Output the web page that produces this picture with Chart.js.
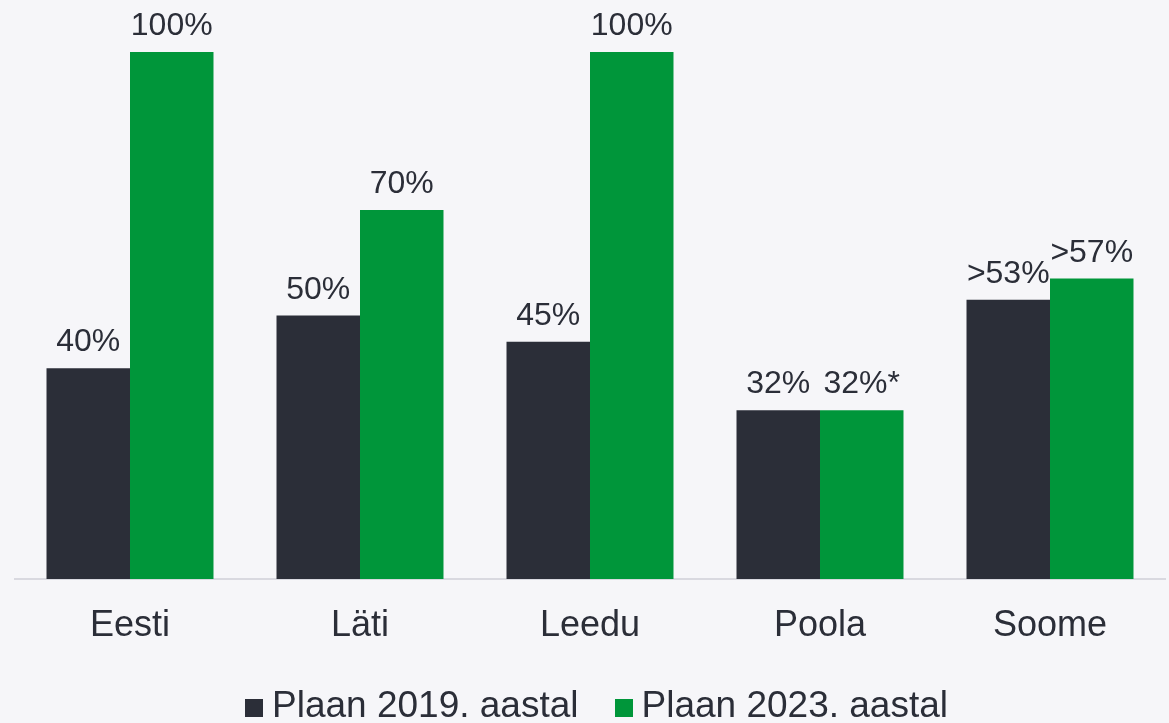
<!DOCTYPE html>
<html><head><meta charset="utf-8">
<script src="https://cdn.jsdelivr.net/npm/chart.js@4"></script>
<style>
html,body{margin:0;padding:0;background:#F6F6F9;}
#wrap{position:relative;width:1169px;height:723px;}
#legend{position:absolute;left:24px;right:0;top:685px;display:flex;justify-content:center;align-items:center;font-family:"Liberation Sans",Arial,sans-serif;font-size:37px;color:#2B2E38;line-height:40px;}
.item{display:flex;align-items:center;margin:0 18px;}
.sw{width:18px;height:18px;margin-right:9px;margin-top:5px;}
</style></head>
<body><div id="wrap"><canvas id="c" width="1169" height="723"></canvas>
<div id="legend"></div></div>
<script>
const categories = ["Eesti", "Läti", "Leedu", "Poola", "Soome"];
const seriesNames = ["Plaan 2019. aastal", "Plaan 2023. aastal"];
const plan2019 = [40, 50, 45, 32, 53];
const plan2023 = [100, 70, 100, 32, 57];
const labels2019 = ["40%", "50%", "45%", "32%", ">53%"];
const labels2023 = ["100%", "70%", "100%", "32%*", ">57%"];
const colors = ["#2B2E38", "#00963A"];

const valueLabels = {
  id: 'valueLabels',
  afterDatasetsDraw(chart) {
    const ctx = chart.ctx;
    const lbls = [labels2019, labels2023];
    ctx.save();
    ctx.font = '32px "Liberation Sans", Arial, sans-serif';
    ctx.fillStyle = '#2B2E38';
    ctx.textAlign = 'center';
    ctx.textBaseline = 'alphabetic';
    chart.data.datasets.forEach((ds, di) => {
      chart.getDatasetMeta(di).data.forEach((bar, i) => {
        ctx.fillText(lbls[di][i], bar.x, bar.y - 17);
      });
    });
    ctx.restore();
  }
};

new Chart(document.getElementById('c'), {
  type: 'bar',
  data: {
    labels: categories,
    datasets: [
      { label: seriesNames[0], data: plan2019, backgroundColor: colors[0] },
      { label: seriesNames[1], data: plan2023, backgroundColor: colors[1] }
    ]
  },
  options: {
    responsive: false,
    animation: false,
    devicePixelRatio: 1,
    layout: { padding: { left: 15, right: 4, top: 52, bottom: 74 } },
    datasets: { bar: { categoryPercentage: 0.726, barPercentage: 1.0 } },
    plugins: { legend: { display: false }, tooltip: { enabled: false } },
    scales: {
      x: {
        grid: { display: false, drawTicks: false, tickLength: 0 },
        border: { display: true, color: '#D9D9E0', width: 2 },
        ticks: { color: '#2B2E38', font: { family: '"Liberation Sans", Arial, sans-serif', size: 36 }, padding: 25 },
        afterFit(scale) { scale.height = 70; }
      },
      y: { display: false, min: 0, max: 100 }
    }
  },
  plugins: [valueLabels]
});

const lg = document.getElementById('legend');
seriesNames.forEach((n, i) => {
  const it = document.createElement('div'); it.className = 'item';
  const sw = document.createElement('div'); sw.className = 'sw'; sw.style.background = colors[i];
  const t = document.createElement('span'); t.textContent = n;
  it.appendChild(sw); it.appendChild(t); lg.appendChild(it);
});
</script></body></html>
